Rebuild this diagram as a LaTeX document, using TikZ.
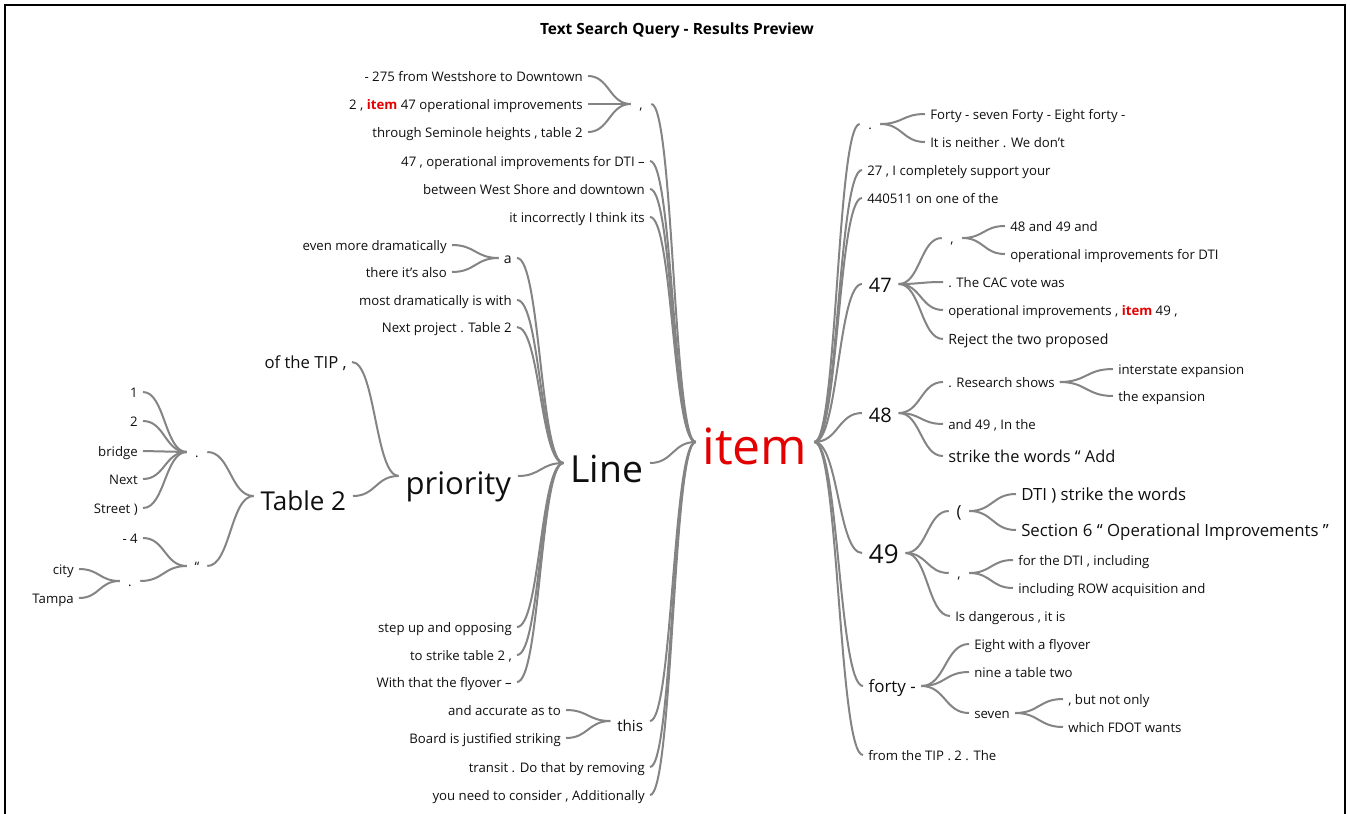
\documentclass[tikz,border=0pt]{standalone}
\usepackage{fontspec}
\setmainfont{Open Sans}
\usetikzlibrary{calc}
\definecolor{cgray}{RGB}{132,132,132}
\definecolor{ctext}{RGB}{15,15,15}
\definecolor{cred}{RGB}{228,0,0}
\newcommand\hit{\textcolor{cred}{\bfseries item}}
\newcommand\cn[2]{\draw[conn] let \p1=(#1), \p2=(#2) in (\p1) .. controls ({0.5*\x1+0.5*\x2},\y1) and ({0.5*\x1+0.5*\x2},\y2) .. (\p2);}
\tikzset{
  conn/.style={draw=cgray, line width=1.5pt},
  base/.style={inner ysep=0pt, inner xsep=3.75pt, text height=10.4pt, text depth=2.5pt, text=ctext, font=\fontsize{9.9}{12}\selectfont},
  L/.style={base, anchor=east},
  R/.style={base, anchor=west},
  punct/.style={base, inner xsep=0pt, minimum width=15pt},
  big/.style={base, inner xsep=5pt},
  med/.style={font=\fontsize{12.6}{14}\selectfont, text height=11.9pt},
}
\begin{document}
\begin{tikzpicture}[x=0.75pt,y=-0.75pt]
\useasboundingbox (0,0) rectangle (1350,814);
\draw[line width=0.8pt] (5,830) -- (5,5) -- (1345,5) -- (1345,830);
\node[font=\fontsize{11.6}{13}\selectfont\bfseries, text=black] (title) at (677,30) {Text Search Query - Results Preview};

% centre
\node[big, text=cred, font=\fontsize{37.5}{40}\selectfont, text height=35.5pt] (item) at (755,442) {item};

% ---------- left of item ----------
\node[punct] (c1) at (641,104) {,};
\node[L] (t275) at (588,76) {- 275 from Westshore to Downtown};
\node[L] (tit47) at (588,104) {2 , \hit{} 47 operational improvements};
\node[L] (tthr) at (588,132) {through Seminole heights , table 2};
\node[L] (t47ops) at (650,161) {47 , operational improvements for DTI –};
\node[L] (tbetw) at (650,189) {between West Shore and downtown};
\node[L] (tincor) at (650,217) {it incorrectly I think its};
\node[big, anchor=east, font=\fontsize{28}{30}\selectfont, text height=32.3pt] (line) at (650,463) {Line};
\node[big, anchor=east, font=\fontsize{11.4}{13}\selectfont, text height=18.8pt] (this) at (650,721) {this};
\node[L] (ttrans) at (650,767) {transit . Do that by removing};
\node[L] (tyou) at (650,795) {you need to consider , Additionally};
\node[L] (tand) at (566,710) {and accurate as to};
\node[L] (tboard) at (566,738) {Board is justified striking};

\node[L, font=\fontsize{10.5}{12}\selectfont] (a) at (517,258) {a};
\node[L] (teven) at (452,245) {even more dramatically};
\node[L] (tthere) at (452,272) {there it's also};
\node[L] (tmost) at (517,300) {most dramatically is with};
\node[L] (tnextp) at (517,327) {Next project . Table 2};
\node[big, anchor=east, font=\fontsize{23.3}{26}\selectfont, text height=29.5pt] (prio) at (518,476) {priority};
\node[L] (tstep) at (517,627) {step up and opposing};
\node[L] (tstrk) at (517,655) {to strike table 2 ,};
\node[L] (twith) at (517,682) {With that the flyover –};

\node[L, med, font=\fontsize{12.5}{14}\selectfont] (tofthe) at (352,362) {of the TIP ,};
\node[big, anchor=east, font=\fontsize{19.5}{22}\selectfont, text height=23.5pt] (tab2) at (353,496) {Table 2};
\node[punct] (d1) at (197,452) {.};
\node[punct] (q1) at (197,566) {“};
\node[L] (n1) at (143,392) {1};
\node[L] (n2) at (143,421) {2};
\node[L] (nbridge) at (143,451) {bridge};
\node[L] (nnext) at (143,479) {Next};
\node[L] (nstreet) at (143,508) {Street )};
\node[L] (nm4) at (143,538) {- 4};
\node[punct] (d2) at (130,581) {.};
\node[L] (ncity) at (79,569) {city};
\node[L] (ntampa) at (79,598) {Tampa};

% ---------- right of item ----------
\node[punct] (d3) at (870,124) {.};
\node[R] (tforty7) at (925,114) {Forty - seven Forty - Eight forty -};
\node[R] (tneither) at (925,142) {It is neither . We don't};
\node[R] (t27) at (862,170) {27 , I completely support your};
\node[R] (t440) at (862,198) {440511 on one of the};

\node[big, anchor=west, font=\fontsize{15}{17}\selectfont, text height=15pt] (n47) at (862,284) {47};
\node[punct] (c2) at (952,238) {,};
\node[R] (t4849) at (1005,226) {48 and 49 and};
\node[R] (topdti) at (1005,254) {operational improvements for DTI};
\node[R] (tcac) at (943,282) {. The CAC vote was};
\node[R] (topitem) at (943,310) {operational improvements , \hit{} 49 ,};
\node[R, font=\fontsize{10.6}{12}\selectfont] (treject) at (943,339) {Reject the two proposed};

\node[big, anchor=west, font=\fontsize{15}{17}\selectfont, text height=16.9pt] (n48) at (862,413) {48};
\node[R] (tresearch) at (943,382) {. Research shows};
\node[R] (tinter) at (1113,369) {interstate expansion};
\node[R] (texp) at (1113,396) {the expansion};
\node[R] (tand49) at (943,424) {and 49 , In the};
\node[R, med, font=\fontsize{12.3}{14}\selectfont] (tstrikew) at (943,456) {strike the words “ Add};

\node[big, anchor=west, font=\fontsize{19.5}{22}\selectfont, text height=17.5pt] (n49) at (862,553) {49};
\node[punct, med] (par) at (959,511) {(};
\node[R, med] (tdti) at (1016,494) {DTI ) strike the words};
\node[R, med] (tsec) at (1016,530) {Section 6 “ Operational Improvements ”};
\node[punct] (c3) at (959,573) {,};
\node[R] (tforthe) at (1013,560) {for the DTI , including};
\node[R] (tinclrow) at (1013,588) {including ROW acquisition and};
\node[R] (tdang) at (950,616) {Is dangerous , it is};

\node[big, anchor=west, font=\fontsize{12.7}{14}\selectfont, text height=12.2pt, inner xsep=4pt] (fortyd) at (863,686) {forty -};
\node[R] (teight) at (969,644) {Eight with a flyover};
\node[R] (tnine) at (969,672) {nine a table two};
\node[R] (tseven) at (969,713) {seven};
\node[R] (tbut) at (1063,699) {, but not only};
\node[R] (twhich) at (1063,727) {which FDOT wants};
\node[R] (tfrom) at (863,755) {from the TIP . 2 . The};

% ---------- connectors ----------
\foreach \q in {c1,t47ops,tbetw,tincor,line,this,ttrans,tyou} {\cn{\q.east}{item.west}}
\foreach \q in {t275,tit47,tthr} {\cn{\q.east}{c1.west}}
\foreach \q in {a,tmost,tnextp,prio,tstep,tstrk,twith} {\cn{\q.east}{line.west}}
\foreach \q in {teven,tthere} {\cn{\q.east}{a.west}}
\foreach \q in {tofthe,tab2} {\cn{\q.east}{prio.west}}
\foreach \q in {d1,q1} {\cn{\q.east}{tab2.west}}
\foreach \q in {n1,n2,nbridge,nnext,nstreet} {\cn{\q.east}{d1.west}}
\foreach \q in {nm4,d2} {\cn{\q.east}{q1.west}}
\foreach \q in {ncity,ntampa} {\cn{\q.east}{d2.west}}
\foreach \q in {tand,tboard} {\cn{\q.east}{this.west}}

\foreach \q in {d3,t27,t440,n47,n48,n49,fortyd,tfrom} {\cn{item.east}{\q.west}}
\foreach \q in {tforty7,tneither} {\cn{d3.east}{\q.west}}
\foreach \q in {c2,tcac,topitem,treject} {\cn{n47.east}{\q.west}}
\foreach \q in {t4849,topdti} {\cn{c2.east}{\q.west}}
\foreach \q in {tresearch,tand49,tstrikew} {\cn{n48.east}{\q.west}}
\foreach \q in {tinter,texp} {\cn{tresearch.east}{\q.west}}
\foreach \q in {par,c3,tdang} {\cn{n49.east}{\q.west}}
\foreach \q in {tdti,tsec} {\cn{par.east}{\q.west}}
\foreach \q in {tforthe,tinclrow} {\cn{c3.east}{\q.west}}
\foreach \q in {teight,tnine,tseven} {\cn{fortyd.east}{\q.west}}
\foreach \q in {tbut,twhich} {\cn{tseven.east}{\q.west}}
\end{tikzpicture}
\end{document}
